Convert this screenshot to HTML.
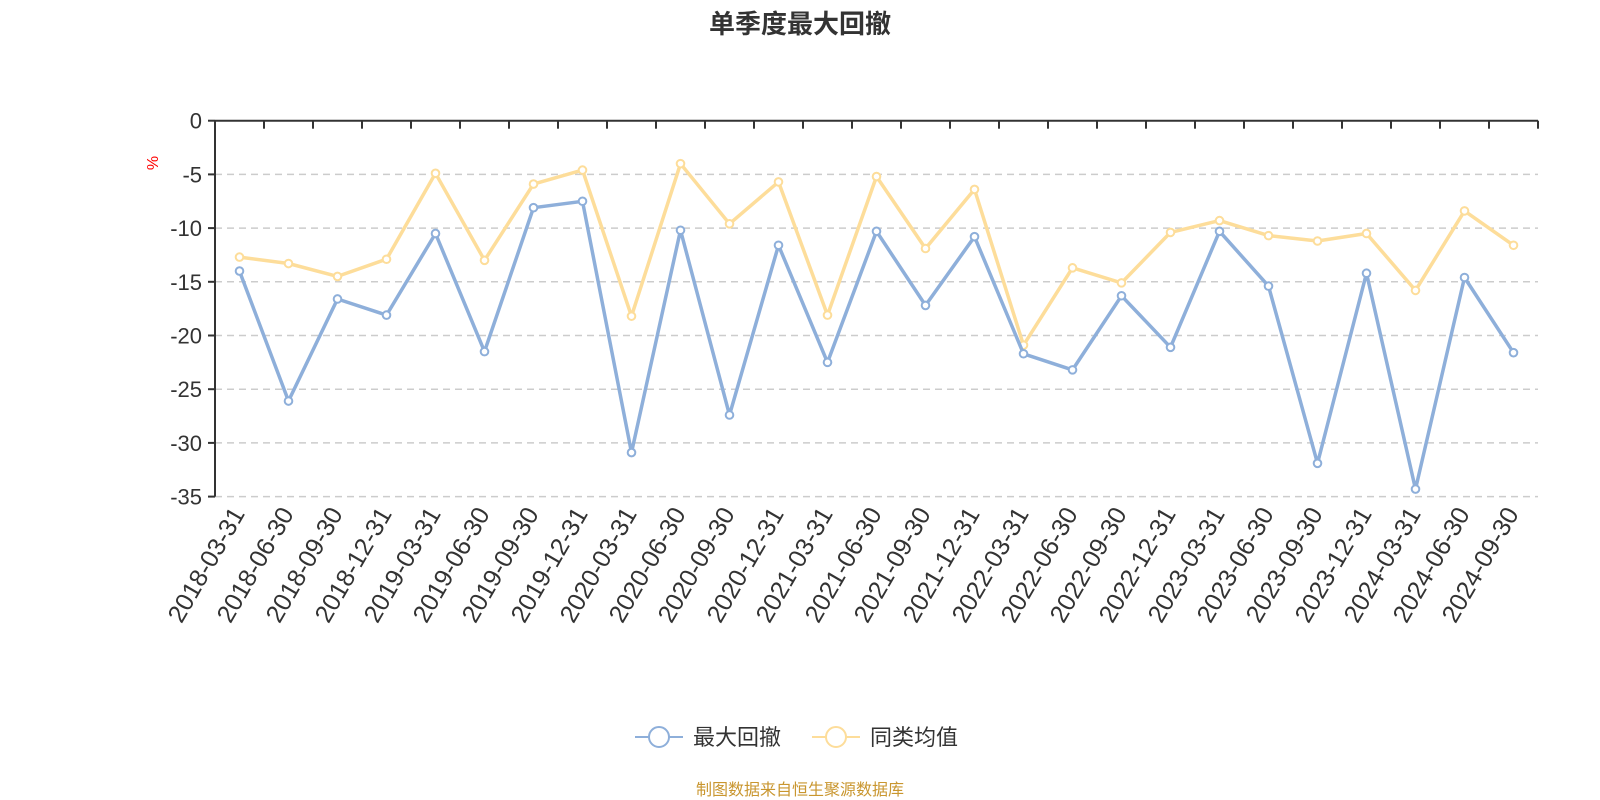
<!DOCTYPE html>
<html><head><meta charset="utf-8"><style>
body{margin:0;background:#fff;width:1600px;height:800px;overflow:hidden}
svg{display:block}
text{font-family:"Liberation Sans","Noto Sans CJK SC",sans-serif}
</style></head><body>
<svg id="s" width="1600" height="800" xmlns="http://www.w3.org/2000/svg"></svg>
<script>
const s=document.getElementById('s');
const X0=215,X1=1538,Y0=120.7,K=10.74,N=27;
const bw=(X1-X0)/N;
const cx=i=>X0+bw*(i+0.5), cy=v=>Y0-v*K;
const labels=["2018-03-31","2018-06-30","2018-09-30","2018-12-31","2019-03-31","2019-06-30","2019-09-30","2019-12-31","2020-03-31","2020-06-30","2020-09-30","2020-12-31","2021-03-31","2021-06-30","2021-09-30","2021-12-31","2022-03-31","2022-06-30","2022-09-30","2022-12-31","2023-03-31","2023-06-30","2023-09-30","2023-12-31","2024-03-31","2024-06-30","2024-09-30"];
const blue=[-14.0,-26.1,-16.6,-18.1,-10.5,-21.5,-8.1,-7.5,-30.9,-10.2,-27.4,-11.6,-22.5,-10.3,-17.2,-10.8,-21.7,-23.2,-16.3,-21.1,-10.3,-15.4,-31.9,-14.2,-34.3,-14.6,-21.6];
const yel=[-12.7,-13.3,-14.5,-12.9,-4.9,-13.0,-5.9,-4.6,-18.2,-4.0,-9.6,-5.7,-18.1,-5.2,-11.9,-6.4,-20.9,-13.7,-15.1,-10.4,-9.3,-10.7,-11.2,-10.5,-15.8,-8.4,-11.6];
let h='';
h+=`<text x="800" y="33" text-anchor="middle" font-size="26" font-weight="bold" fill="#333">单季度最大回撤</text>`;
for(let v=-5;v>=-35;v-=5){h+=`<line x1="${X0}" x2="${X1}" y1="${cy(v)}" y2="${cy(v)}" stroke="#ccc" stroke-width="1.5" stroke-dasharray="7,5"/>`;}
for(let v=0;v>=-35;v-=5){h+=`<line x1="${X0-7}" x2="${X0}" y1="${cy(v)}" y2="${cy(v)}" stroke="#333" stroke-width="2"/><text x="${X0-13}" y="${cy(v)+8}" text-anchor="end" font-size="22" fill="#333">${v}</text>`;}
h+=`<line x1="${X0}" x2="${X0}" y1="${Y0}" y2="${cy(-35)}" stroke="#333" stroke-width="2"/>`;
h+=`<line x1="${X0}" x2="${X1}" y1="${Y0}" y2="${Y0}" stroke="#333" stroke-width="2"/>`;
for(let i=1;i<=N;i++){const x=X0+bw*i;h+=`<line x1="${x}" x2="${x}" y1="${Y0}" y2="${Y0+8}" stroke="#333" stroke-width="2"/>`;}
h+=`<text transform="translate(158,163) rotate(-90)" text-anchor="middle" font-size="16" fill="red">%</text>`;
for(let i=0;i<N;i++){const x=cx(i)+6,y=cy(-35)+17;h+=`<text transform="translate(${x},${y}) rotate(-60)" text-anchor="end" font-size="25" fill="#333">${labels[i]}</text>`;}
function ser(d,c){let p=d.map((v,i)=>`${cx(i).toFixed(1)},${cy(v).toFixed(1)}`).join(' ');
 let r=`<polyline points="${p}" fill="none" stroke="${c}" stroke-width="3.5" stroke-linejoin="round"/>`;
 d.forEach((v,i)=>{r+=`<circle cx="${cx(i)}" cy="${cy(v)}" r="3.8" fill="#fff" stroke="${c}" stroke-width="2"/>`;});return r;}
h+=ser(yel,'#fddd9a');
h+=ser(blue,'#8eafda');
h+=`<line x1="635" x2="683" y1="737" y2="737" stroke="#8eafda" stroke-width="2"/><circle cx="659" cy="737" r="10" fill="#fff" stroke="#8eafda" stroke-width="2"/><text x="693" y="745" font-size="22" fill="#333">最大回撤</text>`;
h+=`<line x1="812" x2="860" y1="737" y2="737" stroke="#fddd9a" stroke-width="2"/><circle cx="836" cy="737" r="10" fill="#fff" stroke="#fddd9a" stroke-width="2"/><text x="870" y="745" font-size="22" fill="#333">同类均值</text>`;
h+=`<text x="800" y="795" text-anchor="middle" font-size="16" fill="#c9962f">制图数据来自恒生聚源数据库</text>`;
s.innerHTML=h;
</script>
</body></html>
